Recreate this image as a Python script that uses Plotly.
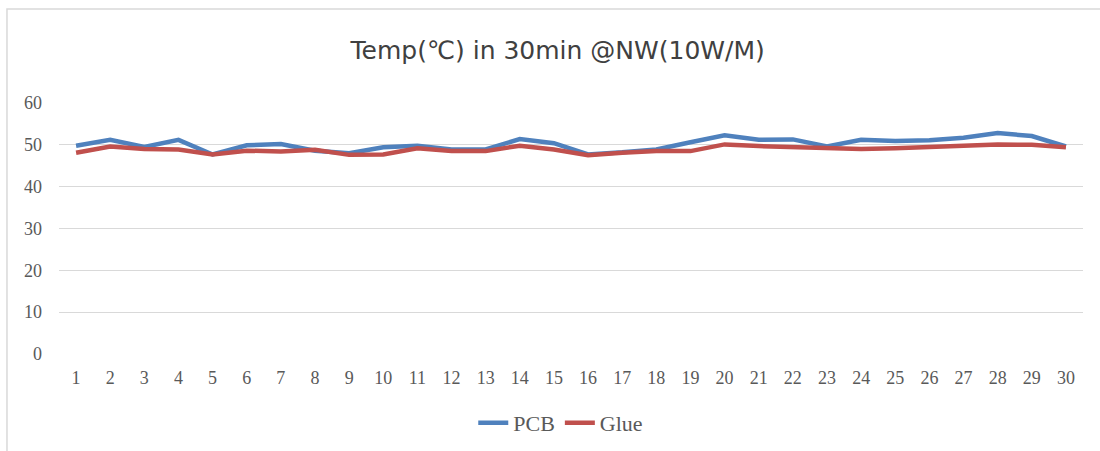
import plotly.graph_objects as go

minutes = list(range(1, 31))
pcb = [49.8, 51.2, 49.5, 51.2, 47.7, 49.9, 50.2, 48.6, 48.0, 49.4,
       49.8, 48.9, 48.9, 51.4, 50.4, 47.7, 48.2, 48.9, 50.6, 52.3,
       51.2, 51.3, 49.6, 51.2, 50.9, 51.1, 51.7, 52.8, 52.1, 49.6]
glue = [48.1, 49.6, 49.0, 48.9, 47.7, 48.6, 48.4, 48.8, 47.6, 47.7,
        49.2, 48.5, 48.5, 49.8, 48.9, 47.5, 48.1, 48.5, 48.5, 50.1,
        49.7, 49.5, 49.2, 49.0, 49.2, 49.4, 49.8, 50.1, 50.0, 49.4]
y_ticks = [0, 10, 20, 30, 40, 50, 60]
title_text = "Temp(℃) in 30min @NW(10W/M)"

fig = go.Figure()
fig.add_trace(go.Scatter(x=minutes, y=pcb, mode="lines", name="PCB",
                         line=dict(color="#4f81bd", width=4.5)))
fig.add_trace(go.Scatter(x=minutes, y=glue, mode="lines", name="Glue",
                         line=dict(color="#c0504d", width=4.5)))

fig.update_layout(
    width=1100, height=451,
    margin=dict(l=59, r=17, t=103, b=97, autoexpand=False),
    paper_bgcolor="white", plot_bgcolor="white",
    title=dict(text=title_text, x=0.507, xref="container", xanchor="center",
               y=0.889, yref="container", yanchor="middle",
               font=dict(family="DejaVu Sans", size=25, color="#404040")),
    legend=dict(orientation="h", x=0.49, xanchor="center",
                y=0.062, yref="container", yanchor="middle",
                font=dict(family="Liberation Serif", size=22, color="#595959"),
                tracegroupgap=0),
    showlegend=True,
)
fig.update_xaxes(range=[0.5, 30.5], tickmode="array", tickvals=minutes,
                 ticktext=[str(m) for m in minutes], showgrid=False, zeroline=False,
                 showline=False, ticks="", ticklabelstandoff=11, automargin=False,
                 tickfont=dict(family="Liberation Serif", size=18, color="#595959"))
fig.update_yaxes(range=[0, 60], tickmode="array", tickvals=y_ticks,
                 showgrid=True, gridcolor="#d9d9d9", gridwidth=1.3, zeroline=False,
                 showline=False, ticks="", ticklabelstandoff=16, automargin=False,
                 tickfont=dict(family="Liberation Serif", size=18, color="#595959"))

fig.add_shape(type="rect", xref="paper", yref="paper",
              x0=-0.0508, x1=1.2, y0=-0.5, y1=1.3745,
              line=dict(color="#d9d9d9", width=1.5), fillcolor="rgba(0,0,0,0)", layer="below")

fig.write_html("out.html", config={"displayModeBar": False},
               post_script="document.body.style.margin='0px';")
